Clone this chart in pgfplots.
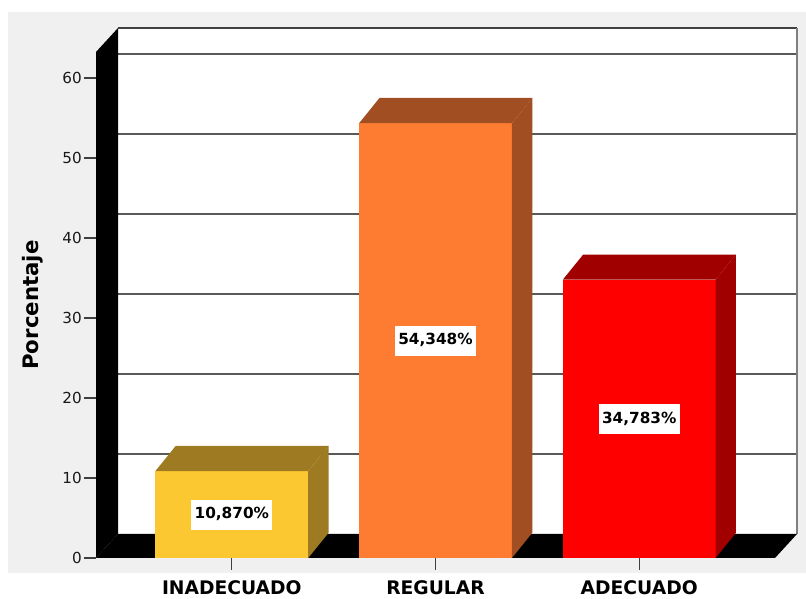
\documentclass[border=0pt]{standalone}
\usepackage{pgfplots}
\pgfplotsset{compat=1.18}
\usepackage{fontspec}
\setmainfont{DejaVu Sans}
\definecolor{bg}{HTML}{F0F0F0}
\definecolor{yelF}{HTML}{FCC832}
\definecolor{yelS}{HTML}{9E7B22}
\definecolor{oraF}{HTML}{FD7C32}
\definecolor{oraS}{HTML}{A04E22}
\definecolor{redF}{HTML}{FF0000}
\definecolor{redS}{HTML}{A00000}
\begin{document}
\begin{tikzpicture}[x=1pt,y=1pt]
\path[use as bounding box] (0,0) rectangle (806,599);
\fill[bg] (8,26) rectangle (806,587);
\begin{axis}[
  at={(96pt,41pt)}, anchor=south west,
  scale only axis, width=679pt, height=506pt,
  xmin=-0.6667, xmax=2.6667, ymin=0, ymax=63.25,
  clip=false,
  axis line style={draw=none},
  xtick={0,1,2}, xticklabels={INADECUADO,REGULAR,ADECUADO},
  ytick={0,10,20,30,40,50,60},
  tick pos=left,
  tick align=outside,
  major tick length=12pt,
  tick style={draw=black!75, line width=1.3pt},
  /pgf/number format/assume math mode=true,
  yticklabel style={font=\fontsize{15.2}{18}\selectfont, text=black!90, inner sep=2pt},
  xticklabel style={font=\bfseries\fontsize{18.7}{22}\selectfont, anchor=base, yshift=-25pt},
  ylabel={Porcentaje},
  every axis y label/.style={at={(axis description cs:-0.0781,0.5)}, rotate=90, anchor=south, inner sep=0pt, font=\bfseries\fontsize{21.3}{25}\selectfont},
]
% back wall
\fill[white] (axis cs:-0.5587,3) rectangle (axis cs:2.7747,66.25);
\draw[black!65, line width=1.2pt] (axis cs:-0.5587,13) -- (axis cs:2.7747,13);
\draw[black!65, line width=1.2pt] (axis cs:-0.5587,23) -- (axis cs:2.7747,23);
\draw[black!65, line width=1.2pt] (axis cs:-0.5587,33) -- (axis cs:2.7747,33);
\draw[black!65, line width=1.2pt] (axis cs:-0.5587,43) -- (axis cs:2.7747,43);
\draw[black!65, line width=1.2pt] (axis cs:-0.5587,53) -- (axis cs:2.7747,53);
\draw[black!65, line width=1.2pt] (axis cs:-0.5587,63) -- (axis cs:2.7747,63);
\draw[black!75, line width=1.3pt] (axis cs:-0.5587,66.25) -- (axis cs:2.7747,66.25);
\draw[black!50, line width=1.5pt] (axis cs:2.7747,66.25) -- (axis cs:2.7747,3);
% left wall and floor
\fill[black] (axis cs:-0.6667,0) -- (axis cs:-0.6667,63.25) -- (axis cs:-0.5587,66.25) -- (axis cs:-0.5587,3) -- cycle;
\fill[black] (axis cs:-0.6667,0) -- (axis cs:2.6667,0) -- (axis cs:2.7747,3) -- (axis cs:-0.5587,3) -- cycle;
% bars: front faces
\addplot[ybar, bar width=0.75, bar shift=0pt, fill=yelF, draw=none, forget plot] coordinates {(0,10.870)};
\addplot[ybar, bar width=0.75, bar shift=0pt, fill=oraF, draw=none, forget plot] coordinates {(1,54.348)};
\addplot[ybar, bar width=0.75, bar shift=0pt, fill=redF, draw=none, forget plot] coordinates {(2,34.783)};
% bars: top faces
\addplot[fill=yelS, draw=none, mark=none, forget plot] coordinates {(-0.375,10.870) (-0.275,14.02) (0.475,14.02) (0.375,10.870)} -- cycle;
\addplot[fill=oraS, draw=none, mark=none, forget plot] coordinates {(0.625,54.348) (0.725,57.50) (1.475,57.50) (1.375,54.348)} -- cycle;
\addplot[fill=redS, draw=none, mark=none, forget plot] coordinates {(1.625,34.783) (1.725,37.93) (2.475,37.93) (2.375,34.783)} -- cycle;
% bars: side faces
\addplot[fill=yelS, draw=none, mark=none, forget plot] coordinates {(0.375,0) (0.375,10.870) (0.475,14.02) (0.475,3.15)} -- cycle;
\addplot[fill=oraS, draw=none, mark=none, forget plot] coordinates {(1.375,0) (1.375,54.348) (1.475,57.50) (1.475,3.15)} -- cycle;
\addplot[fill=redS, draw=none, mark=none, forget plot] coordinates {(2.375,0) (2.375,34.783) (2.475,37.93) (2.475,3.15)} -- cycle;
% value labels
\tikzset{vlab/.style={fill=white, font=\bfseries\fontsize{15.3}{18}\selectfont, inner xsep=3.5pt, inner ysep=0pt, text height=11.5pt, text depth=3pt, minimum height=30pt}}
\node[vlab] at (axis cs:0,5.435) {10,870\%};
\node[vlab] at (axis cs:1,27.174) {54,348\%};
\node[vlab] at (axis cs:2,17.392) {34,783\%};
\end{axis}
\end{tikzpicture}
\end{document}
